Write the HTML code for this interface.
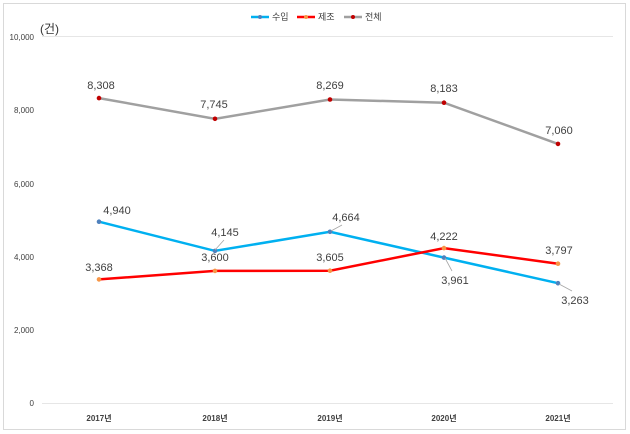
<!DOCTYPE html>
<html><head><meta charset="utf-8"><style>body{margin:0;background:#fff}svg{display:block}</style></head>
<body>
<svg width="630" height="434" xmlns="http://www.w3.org/2000/svg" font-family="Liberation Sans, Noto Sans CJK KR, sans-serif">
<rect x="3.5" y="3.5" width="622" height="426" fill="#fff" stroke="#d9d9d9"/>
<g stroke="#e6e6e6" stroke-width="1">
<line x1="42" y1="36.5" x2="613" y2="36.5"/>
<line x1="42" y1="403.5" x2="613" y2="403.5"/>
</g>
<g font-size="8" fill="#404040" text-anchor="end">
<text x="34" y="40">10,000</text>
<text x="34" y="113">8,000</text>
<text x="34" y="187">6,000</text>
<text x="34" y="260">4,000</text>
<text x="34" y="333">2,000</text>
<text x="34" y="406">0</text>
</g>
<text x="40" y="33" font-size="12" fill="#333">(건)</text>
<g font-size="8" fill="#404040" text-anchor="middle" font-weight="bold">
<text x="99" y="421">2017년</text><text x="215" y="421">2018년</text><text x="330" y="421">2019년</text><text x="444" y="421">2020년</text><text x="558" y="421">2021년</text>
</g>
<g font-size="9" fill="#404040">
<line x1="251" y1="17" x2="269" y2="17" stroke="#00b0f0" stroke-width="2.5"/><circle cx="260" cy="17" r="2" fill="#4f81bd"/><text x="272" y="20">수입</text>
<line x1="297" y1="17" x2="315" y2="17" stroke="#ff0000" stroke-width="2.5"/><circle cx="306" cy="17" r="2" fill="#f79646"/><text x="318" y="20">제조</text>
<line x1="344" y1="17" x2="362" y2="17" stroke="#a0a0a0" stroke-width="2.5"/><circle cx="353" cy="17" r="2" fill="#c00000"/><text x="365" y="20">전체</text>
</g>
<g fill="none" stroke-width="2.5">
<polyline stroke="#a0a0a0" points="99,98.1 215,118.8 330,99.5 444,102.7 558,143.9"/>
<polyline stroke="#00b0f0" points="99,221.7 215,250.9 330,231.8 444,257.6 558,283.2"/>
<polyline stroke="#ff0000" points="99,279.4 215,270.9 330,270.7 444,248.1 558,263.7"/>
</g>
<g fill="#c00000"><circle cx="99" cy="98.1" r="2.3"/><circle cx="215" cy="118.8" r="2.3"/><circle cx="330" cy="99.5" r="2.3"/><circle cx="444" cy="102.7" r="2.3"/><circle cx="558" cy="143.9" r="2.3"/></g>
<g fill="#4f81bd"><circle cx="99" cy="221.7" r="2.3"/><circle cx="215" cy="250.9" r="2.3"/><circle cx="330" cy="231.8" r="2.3"/><circle cx="444" cy="257.6" r="2.3"/><circle cx="558" cy="283.2" r="2.3"/></g>
<g fill="#f79646"><circle cx="99" cy="279.4" r="2.3"/><circle cx="215" cy="270.9" r="2.3"/><circle cx="330" cy="270.7" r="2.3"/><circle cx="444" cy="248.1" r="2.3"/><circle cx="558" cy="263.7" r="2.3"/></g>
<g stroke="#a6a6a6" stroke-width="0.8"><line x1="215" y1="250" x2="224" y2="240"/><line x1="331" y1="231" x2="342" y2="225"/><line x1="445" y1="258" x2="452" y2="271"/><line x1="559" y1="284" x2="572" y2="291"/></g>
<g font-size="11" fill="#404040" text-anchor="middle">
<text x="101" y="89">8,308</text><text x="214" y="108">7,745</text><text x="330" y="89">8,269</text><text x="444" y="92">8,183</text><text x="559" y="134">7,060</text>
<text x="117" y="214">4,940</text><text x="225" y="236">4,145</text><text x="346" y="221">4,664</text><text x="444" y="240">4,222</text><text x="559" y="254">3,797</text>
<text x="99" y="271">3,368</text><text x="215" y="261">3,600</text><text x="330" y="261">3,605</text><text x="455" y="284">3,961</text><text x="575" y="304">3,263</text>
</g>
</svg>
</body></html>
